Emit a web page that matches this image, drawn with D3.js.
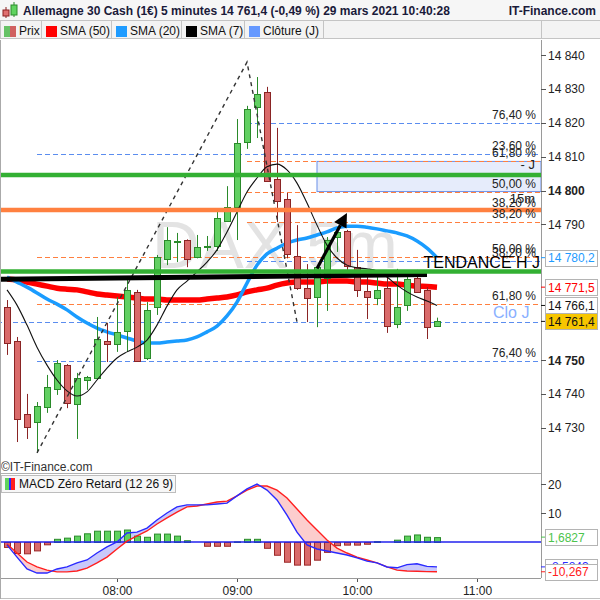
<!DOCTYPE html>
<html><head><meta charset="utf-8">
<script src="https://cdn.jsdelivr.net/npm/d3@7"></script>
<style>body{margin:0;background:#fff}svg{display:block;font-family:"Liberation Sans",Arial,sans-serif}</style>
</head><body><svg id="c" width="600" height="600"></svg>
<script>
// ---------- DATA ----------
const times = ["07:05","07:10","07:15","07:20","07:25","07:30","07:35","07:40","07:45","07:50","07:55","08:00",
"08:05","08:10","08:15","08:20","08:25","08:30","08:35","08:40","08:45","08:50","08:55","09:00",
"09:05","09:10","09:15","09:20","09:25","09:30","09:35","09:40","09:45","09:50","09:55","10:00",
"10:05","10:10","10:15","10:20","10:25","10:30","10:35","10:40"];
const open  = [14765.6,14755.6,14734.1,14731.7,14736.1,14741.4,14748.5,14737.0,14744.1,14744.7,14755.6,14754.7,
14758.6,14770.1,14750.6,14765.6,14779.8,14784.6,14785.4,14780.4,14783.2,14783.6,14791.0,14795.1,
14814.3,14824.7,14829.1,14803.4,14797.5,14780.7,14771.2,14768.6,14774.2,14786.3,14788.1,14777.4,
14770.4,14768.3,14771.2,14760.6,14766.2,14774.2,14770.7,14759.8];
const high  = [14767.7,14756.8,14740.0,14737.6,14745.6,14750.0,14748.8,14746.2,14745.3,14762.7,14760.9,14768.6,
14774.2,14770.7,14767.1,14781.0,14789.2,14787.5,14785.6,14786.9,14786.6,14793.7,14801.3,14821.1,
14825.0,14833.5,14830.6,14818.5,14799.3,14789.8,14778.3,14778.0,14786.3,14789.2,14788.4,14782.5,
14774.5,14774.5,14774.8,14776.9,14774.5,14776.6,14771.5,14762.5];
const low   = [14751.5,14725.8,14726.7,14722.6,14734.4,14739.7,14735.8,14726.7,14741.2,14744.1,14749.4,14752.4,
14752.4,14749.5,14750.0,14763.3,14778.0,14778.9,14777.4,14780.0,14782.2,14782.2,14791.0,14785.4,
14812.3,14815.5,14802.8,14790.7,14780.0,14770.7,14761.2,14759.7,14764.5,14781.9,14776.6,14768.6,
14762.1,14766.2,14758.0,14759.4,14764.5,14770.0,14756.2,14759.8];
const close = [14755.0,14732.6,14730.2,14736.4,14742.0,14749.1,14737.3,14744.7,14745.0,14756.2,14754.7,14758.3,
14770.7,14749.7,14764.8,14780.4,14785.4,14785.0,14779.8,14783.3,14783.6,14791.9,14795.1,14814.0,
14824.1,14828.5,14802.8,14796.9,14781.3,14771.2,14768.3,14777.4,14785.4,14787.8,14777.7,14770.7,
14768.6,14770.7,14760.0,14765.6,14773.9,14770.1,14759.7,14761.4];
const sma50 = [14773.9,14773.6,14773.0,14772.4,14771.8,14771.2,14770.9,14770.7,14770.1,14769.5,14769.2,14768.9,
14768.6,14768.3,14768.0,14768.0,14767.7,14767.7,14767.7,14767.7,14768.0,14768.3,14768.6,14769.2,
14770.1,14770.7,14771.2,14772.1,14772.7,14773.0,14773.0,14773.0,14773.3,14773.3,14773.3,14773.0,
14773.0,14772.7,14772.4,14772.4,14772.1,14771.8,14771.7,14771.5];
const sma20 = [14774.5,14773.0,14771.5,14769.8,14768.0,14766.5,14764.8,14762.7,14760.9,14759.4,14758.3,14757.4,
14756.5,14755.6,14755.0,14755.0,14755.3,14755.6,14755.9,14756.8,14758.3,14760.0,14763.0,14767.1,
14772.7,14778.0,14781.3,14783.0,14784.5,14785.4,14786.0,14786.9,14787.8,14789.0,14789.5,14789.5,
14789.2,14788.7,14788.1,14787.5,14786.6,14785.1,14783.0,14780.2];
const sma7  = [14770.7,14766.2,14760.3,14753.8,14748.5,14744.1,14740.9,14739.4,14740.6,14744.1,14747.6,14750.6,
14752.4,14753.8,14755.9,14760.3,14765.9,14770.7,14773.3,14776.0,14778.9,14782.5,14787.8,14793.7,
14799.6,14803.7,14807.0,14807.8,14806.1,14802.2,14796.3,14789.8,14783.9,14780.1,14778.0,14777.2,
14776.9,14776.3,14774.5,14772.1,14770.1,14768.6,14767.4,14766.1];
const macdHist = [-1.7,-3.8,-3.9,-2.9,-0.8,1.1,1.5,2.2,3.0,3.9,3.9,3.9,
4.3,2.2,1.8,2.9,2.9,2.2,0.6,0.0,-1.3,-1.3,-1.3,0.2,
1.1,1.1,-2.0,-4.4,-6.8,-7.8,-7.8,-6.1,-3.4,-1.1,-0.9,-0.9,
-0.6,0.3,0.0,0.8,2.2,2.6,1.8,1.6827];
const macdLine = [-1.0,-5.2,-9.3,-10.7,-10.7,-9.3,-8.6,-7.2,-6.2,-3.8,-1.7,0.0,
3.1,3.4,4.8,7.6,10.0,12.1,12.8,12.8,12.8,13.1,13.4,15.9,
18.3,20.0,17.9,14.5,9.3,3.4,-1.0,-2.4,-3.1,-3.8,-4.5,-5.5,
-6.6,-7.2,-8.6,-8.9,-7.8,-7.5,-8.4,-8.5843];
const macdSignal = [-0.7,-3.8,-6.9,-8.6,-9.7,-10.3,-10.3,-10.0,-9.0,-7.2,-5.2,-2.4,
0.3,2.1,3.8,6.2,8.3,10.3,12.1,12.4,13.1,13.8,14.1,15.9,
17.9,19.3,19.3,17.9,15.2,11.4,7.6,4.1,0.7,-2.1,-3.8,-5.2,
-6.2,-7.2,-8.6,-9.7,-10.0,-10.1,-10.2,-10.267];
const priceTicks = [14840,14830,14820,14810,14800,14790,14750,14740,14730];
const boldTicks = [14800,14750];
const macdTicks = [20,10];
const timeTicks = ["08:00","09:00","10:00","11:00"];
// retracement levels: price, start time, kind, label
const fibPrices = [14819.9,14810.8,14808.7,14799.6,14790.7,14780.4,14779.2,14766.5,14761.2,14749.7];
const fibStarts = ["09:05","07:20","09:05","09:05","09:05","07:20","09:05","07:20","07:00","07:20"];
const fibKinds  = ["b","b","o","o","o","o","b","o","b","b"];
const fibLabels = ["76,40 %","23,60 %","61,80 %","50,00 %","38,20 %","50,00 %","38,20 %","61,80 %","","76,40 %"];
const zoneTop = 14808.6, zoneBottom = 14799.7, zoneStart = "09:40";
const thickPrices = [14804.6,14794.3,14776.1];
const thickKinds  = ["g","o","g"];
const trendLine = [["07:00",14773.8],["10:35",14775.2]];
const zigzagT = ["07:20","09:05","09:30"];
const zigzagP = [14722.6,14837.9,14761.2];
const arrowT = ["09:40","09:55"];
const arrowP = [14777.0,14793.4];
const lastValues = {sma20:14780.2, sma50:14771.5, sma7:14766.1, last:14761.4};
const title = "Allemagne 30 Cash (1€) 5 minutes 14 761,4 (-0,49 %) 29 mars 2021 10:40:28";
const legendItems = ["Prix","SMA (50)","SMA (20)","SMA (7)","Clôture (J)"];

// ---------- SCALES ----------
const svg = d3.select("#c");
const R = 541;
const tm = t => { const [h,m] = t.split(":").map(Number); return h*60+m-420; };
const x = d3.scaleLinear().domain([0,272]).range([-3,541]);
const y = d3.scaleLinear().domain([14730,14840]).range([427.8,55]);
const ym = d3.scaleLinear().domain([0,20]).range([542,484]);
const fmt = v => d3.format(",.1f")(v).replace(/,/g," ").replace(".",",");

// ---------- HEADER ----------
svg.append("rect").attr("x",0).attr("y",0).attr("width",600).attr("height",20).attr("fill","#f6f6f6");
svg.append("line").attr("x1",6).attr("x2",6).attr("y1",7).attr("y2",18).attr("stroke","#8b2020");
svg.append("rect").attr("x",3).attr("y",10).attr("width",6).attr("height",6).attr("fill","#e07070").attr("stroke","#8b2020");
svg.append("line").attr("x1",14).attr("x2",14).attr("y1",2).attr("y2",17).attr("stroke","#2a8a2a");
svg.append("rect").attr("x",11).attr("y",5).attr("width",6).attr("height",10).attr("fill","#5fd35f").attr("stroke","#2a8a2a");
svg.append("text").attr("x",23).attr("y",15).attr("font-size",12).attr("font-weight","bold").attr("fill","#1a1a3a").text(title);
svg.append("text").attr("x",596).attr("y",15).attr("font-size",12).attr("font-weight","bold").attr("text-anchor","end").attr("fill","#1a1a3a").text("IT-Finance.com");
const cells = [[0,41],[41,111],[111,181],[181,244],[244,323],[323,541],[541,600]];
cells.forEach(c=>{
  svg.append("rect").attr("x",c[0]+0.5).attr("y",20.5).attr("width",c[1]-c[0]).attr("height",18)
    .attr("fill","#f3f3f3").attr("stroke","#c4c4c4");
});
const swCols = [null,"#ff0000","#1e9bff","#000000","#6699ff"];
legendItems.forEach((t,i)=>{
  const x0 = cells[i][0];
  if(i===0){
    svg.append("rect").attr("x",4).attr("y",26).attr("width",6).attr("height",11).attr("fill","#66c266");
    svg.append("rect").attr("x",10).attr("y",26).attr("width",6).attr("height",11).attr("fill","#d06060");
  } else {
    svg.append("rect").attr("x",x0+5).attr("y",26).attr("width",11).attr("height",11).attr("fill",swCols[i]);
  }
  svg.append("text").attr("x",x0+19).attr("y",35).attr("font-size",12).attr("fill","#111").text(t);
});

// ---------- PRICE PANEL ----------
const defs = svg.append("defs");
defs.append("clipPath").attr("id","pc").append("rect").attr("x",1).attr("y",40).attr("width",R-1).attr("height",433);
const g = svg.append("g").attr("clip-path","url(#pc)");
g.append("text").attr("x",152).attr("y",268).attr("font-size",66).attr("fill","#e3e3e3").text("DAX 5m");
g.append("rect").attr("x",x(tm(zoneStart))).attr("y",y(zoneTop)).attr("width",R-x(tm(zoneStart))).attr("height",y(zoneBottom)-y(zoneTop))
  .attr("fill","#e6ecfb").attr("stroke","#6b8fe8").attr("stroke-width",1);
fibPrices.forEach((p,i)=>{
  const yy = Math.round(y(p))+0.5;
  g.append("line").attr("x1",x(tm(fibStarts[i]))).attr("x2",R).attr("y1",yy).attr("y2",yy)
    .attr("stroke",fibKinds[i]==="b"?"#5b8def":"#ff7f3f").attr("stroke-width",1).attr("stroke-dasharray","5,3");
});
const lineGen = arr => d3.line().x((d,i)=>x(tm(times[i]))).y(d=>y(d)).curve(d3.curveMonotoneX)(arr);
g.append("path").attr("d",lineGen(sma50)).attr("fill","none").attr("stroke","#ff0000").attr("stroke-width",5.5);
g.append("path").attr("d",lineGen(sma20)).attr("fill","none").attr("stroke","#1a9cff").attr("stroke-width",3.5);
times.forEach((t,i)=>{
  const cx = Math.round(x(tm(t)));
  const up = close[i] >= open[i];
  const st = up ? "#2a8a2a" : "#8a2424";
  const fl = up ? "#62d062" : "#d96a6a";
  g.append("line").attr("x1",cx+0.5).attr("x2",cx+0.5).attr("y1",y(high[i])).attr("y2",y(low[i])).attr("stroke",st).attr("stroke-width",1);
  const top = y(Math.max(open[i],close[i])), bot = y(Math.min(open[i],close[i]));
  g.append("rect").attr("x",cx-2.5).attr("y",Math.round(top)+0.5).attr("width",6).attr("height",Math.max(1,Math.round(bot-top)))
    .attr("fill",fl).attr("stroke",st).attr("stroke-width",1);
});
g.append("path").attr("d",lineGen(sma7)).attr("fill","none").attr("stroke","#111").attr("stroke-width",1.1);
g.append("path").attr("d",d3.line()(zigzagT.map((t,i)=>[x(tm(t)),y(zigzagP[i])])))
  .attr("fill","none").attr("stroke","#333").attr("stroke-width",1.4).attr("stroke-dasharray","4,4");
g.append("line").attr("x1",x(tm(trendLine[0][0]))).attr("x2",x(tm(trendLine[1][0])))
  .attr("y1",y(trendLine[0][1])).attr("y2",y(trendLine[1][1])).attr("stroke","#000").attr("stroke-width",5);
thickPrices.forEach((p,i)=>{
  g.append("line").attr("x1",0).attr("x2",R).attr("y1",y(p)).attr("y2",y(p))
   .attr("stroke",thickKinds[i]==="g"?"#33b033":"#ff8040").attr("stroke-width",4.5);
});
{
  const x1=x(tm(arrowT[0])), y1=y(arrowP[0]), x2=x(tm(arrowT[1])), y2=y(arrowP[1]);
  const a = Math.atan2(y2-y1,x2-x1), L=14, Wd=7;
  const bx = x2-L*Math.cos(a), by = y2-L*Math.sin(a);
  g.append("line").attr("x1",x1).attr("y1",y1).attr("x2",bx).attr("y2",by).attr("stroke","#000").attr("stroke-width",3.2);
  g.append("path").attr("d",`M${x2},${y2}L${bx+Wd*Math.sin(a)},${by-Wd*Math.cos(a)}L${bx-Wd*Math.sin(a)},${by+Wd*Math.cos(a)}Z`).attr("fill","#000");
}
fibPrices.forEach((p,i)=>{
  if(!fibLabels[i]) return;
  g.append("text").attr("x",536).attr("y",y(p)-4).attr("text-anchor","end").attr("font-size",12).attr("fill","#222").text(fibLabels[i]);
});
g.append("text").attr("x",535).attr("y",y(thickPrices[0])-6).attr("text-anchor","end").attr("font-size",13).attr("fill","#222").text("- J");
g.append("text").attr("x",535).attr("y",y(thickPrices[1])-7).attr("text-anchor","end").attr("font-size",13).attr("fill","#222").text("15m");
g.append("text").attr("x",536).attr("y",y(thickPrices[1])-3).attr("text-anchor","end").attr("font-size",12).attr("fill","#222").text("38,20 %");
g.append("text").attr("x",540).attr("y",y(thickPrices[2])-4).attr("text-anchor","end").attr("font-size",16).attr("fill","#000").text("TENDANCE H J");
g.append("text").attr("x",493).attr("y",y(fibPrices[8])-4).attr("font-size",16).attr("fill","#8ab0ff").text("Clo J");

svg.append("line").attr("x1",R+0.5).attr("x2",R+0.5).attr("y1",40).attr("y2",578).attr("stroke","#9a9a9a");
priceTicks.forEach(v=>{
  svg.append("line").attr("x1",R).attr("x2",R+5).attr("y1",Math.round(y(v))+0.5).attr("y2",Math.round(y(v))+0.5).attr("stroke","#555");
  svg.append("text").attr("x",548).attr("y",y(v)+4.5).attr("font-size",12).attr("fill","#222")
    .attr("font-weight",boldTicks.includes(v)?"bold":"normal").text(d3.format(",")(v).replace(/,/g," "));
});
const valBox = (v,col,fill,scale,txt) => {
  const yy = scale(v);
  svg.append("line").attr("x1",R).attr("x2",R+5).attr("y1",yy).attr("y2",yy).attr("stroke",col);
  svg.append("rect").attr("x",545.5).attr("y",Math.round(yy-8)+0.5).attr("width",52).attr("height",16)
    .attr("fill",fill).attr("stroke","#b4b4b4");
  svg.append("text").attr("x",548).attr("y",yy+4.5).attr("font-size",12).attr("fill",col).text(txt);
};
valBox(lastValues.sma20,"#1e9bff","#fff",y,fmt(lastValues.sma20));
valBox(lastValues.sma50,"#ff0000","#fff",y,fmt(lastValues.sma50));
valBox(lastValues.sma7,"#111","#fff",y,fmt(lastValues.sma7));
valBox(lastValues.last,"#111","#f7c600",y,fmt(lastValues.last));

// ---------- MACD PANEL ----------
svg.append("text").attr("x",1).attr("y",471).attr("font-size",12).attr("fill","#333").text("©IT-Finance.com");
svg.append("line").attr("x1",0).attr("x2",R).attr("y1",473.5).attr("y2",473.5).attr("stroke","#b0b0b0");
defs.append("clipPath").attr("id","mc").append("rect").attr("x",1).attr("y",474).attr("width",R-1).attr("height",104);
const mg = svg.append("g").attr("clip-path","url(#mc)");
const xs = times.map(t=>x(tm(t)));
for(let i=0;i<times.length-1;i++){
  const da = macdLine[i]-macdSignal[i], db = macdLine[i+1]-macdSignal[i+1];
  const poly = (pts,col)=>mg.append("path").attr("d","M"+pts.map(p=>p.join(",")).join("L")+"Z").attr("fill",col);
  const P = (xx,v)=>[xx,ym(v)];
  const colOf = d => d>=0 ? "#c9c9fb" : "#fccdcd";
  if(da*db >= 0){
    poly([P(xs[i],macdLine[i]),P(xs[i+1],macdLine[i+1]),P(xs[i+1],macdSignal[i+1]),P(xs[i],macdSignal[i])], colOf(da+db));
  } else {
    const t = da/(da-db);
    const xc = xs[i]+t*(xs[i+1]-xs[i]);
    const vc = macdLine[i]+t*(macdLine[i+1]-macdLine[i]);
    poly([P(xs[i],macdLine[i]),P(xc,vc),P(xs[i],macdSignal[i])], colOf(da));
    poly([P(xc,vc),P(xs[i+1],macdLine[i+1]),P(xs[i+1],macdSignal[i+1])], colOf(db));
  }
}
macdHist.forEach((v,i)=>{
  if(Math.abs(v)<0.05) return;
  const cx = Math.round(xs[i]);
  const y0 = ym(0), y1 = ym(v);
  mg.append("rect").attr("x",cx-2.5).attr("y",Math.min(y0,y1)+0.5).attr("width",6).attr("height",Math.abs(y1-y0))
    .attr("fill",v>0?"#5fd35f":"#d96a6a").attr("stroke",v>0?"#2a8a2a":"#9a2828");
});
mg.append("line").attr("x1",0).attr("x2",R).attr("y1",ym(0)).attr("y2",ym(0)).attr("stroke","#2222ee").attr("stroke-width",1.5);
const mLine = arr => d3.line().x((d,i)=>xs[i]).y(d=>ym(d))(arr);
mg.append("path").attr("d",mLine(macdSignal)).attr("fill","none").attr("stroke","#ff2020").attr("stroke-width",1.4);
mg.append("path").attr("d",mLine(macdLine)).attr("fill","none").attr("stroke","#2a2aff").attr("stroke-width",1.4);
svg.append("rect").attr("x",1.5).attr("y",475.5).attr("width",174).attr("height",17).attr("fill","#f7f7f7").attr("stroke","#bdbdbd");
svg.append("rect").attr("x",5).attr("y",478).attr("width",4).attr("height",12).attr("fill","#5fd35f");
svg.append("rect").attr("x",9).attr("y",478).attr("width",2).attr("height",12).attr("fill","#2a2aff");
svg.append("rect").attr("x",11).attr("y",478).attr("width",4).attr("height",12).attr("fill","#ff2020");
svg.append("text").attr("x",19).attr("y",488).attr("font-size",12).attr("fill","#111").text("MACD Zéro Retard (12 26 9)");
macdTicks.forEach(v=>{
  svg.append("line").attr("x1",R).attr("x2",R+5).attr("y1",Math.round(ym(v))+0.5).attr("y2",Math.round(ym(v))+0.5).attr("stroke","#555");
  svg.append("text").attr("x",548).attr("y",ym(v)+4.5).attr("font-size",12).attr("fill","#222").text(v);
});
const mfmt = v => String(v).replace(".",",");
valBox(macdHist[macdHist.length-1],"#4cc44c","#fff",ym,mfmt(1.6827));
valBox(macdLine[macdLine.length-1],"#2a2aff","#fff",ym,mfmt(-8.5843));
valBox(macdSignal[macdSignal.length-1],"#ff2020","#fff",ym,mfmt(-10.267));

// ---------- TIME AXIS ----------
svg.append("line").attr("x1",0).attr("x2",R).attr("y1",578.5).attr("y2",578.5).attr("stroke","#9a9a9a");
timeTicks.forEach(t=>{
  const xx = Math.round(x(tm(t)))+0.5;
  svg.append("line").attr("x1",xx).attr("x2",xx).attr("y1",579).attr("y2",582).attr("stroke","#555");
  svg.append("text").attr("x",xx).attr("y",595).attr("text-anchor","middle").attr("font-size",12).attr("fill","#222").text(t);
});
svg.append("line").attr("x1",0).attr("x2",600).attr("y1",598.5).attr("y2",598.5).attr("stroke","#c0c0c0");
svg.append("line").attr("x1",0.5).attr("x2",0.5).attr("y1",40).attr("y2",599).attr("stroke","#aaa");
</script></body></html>
